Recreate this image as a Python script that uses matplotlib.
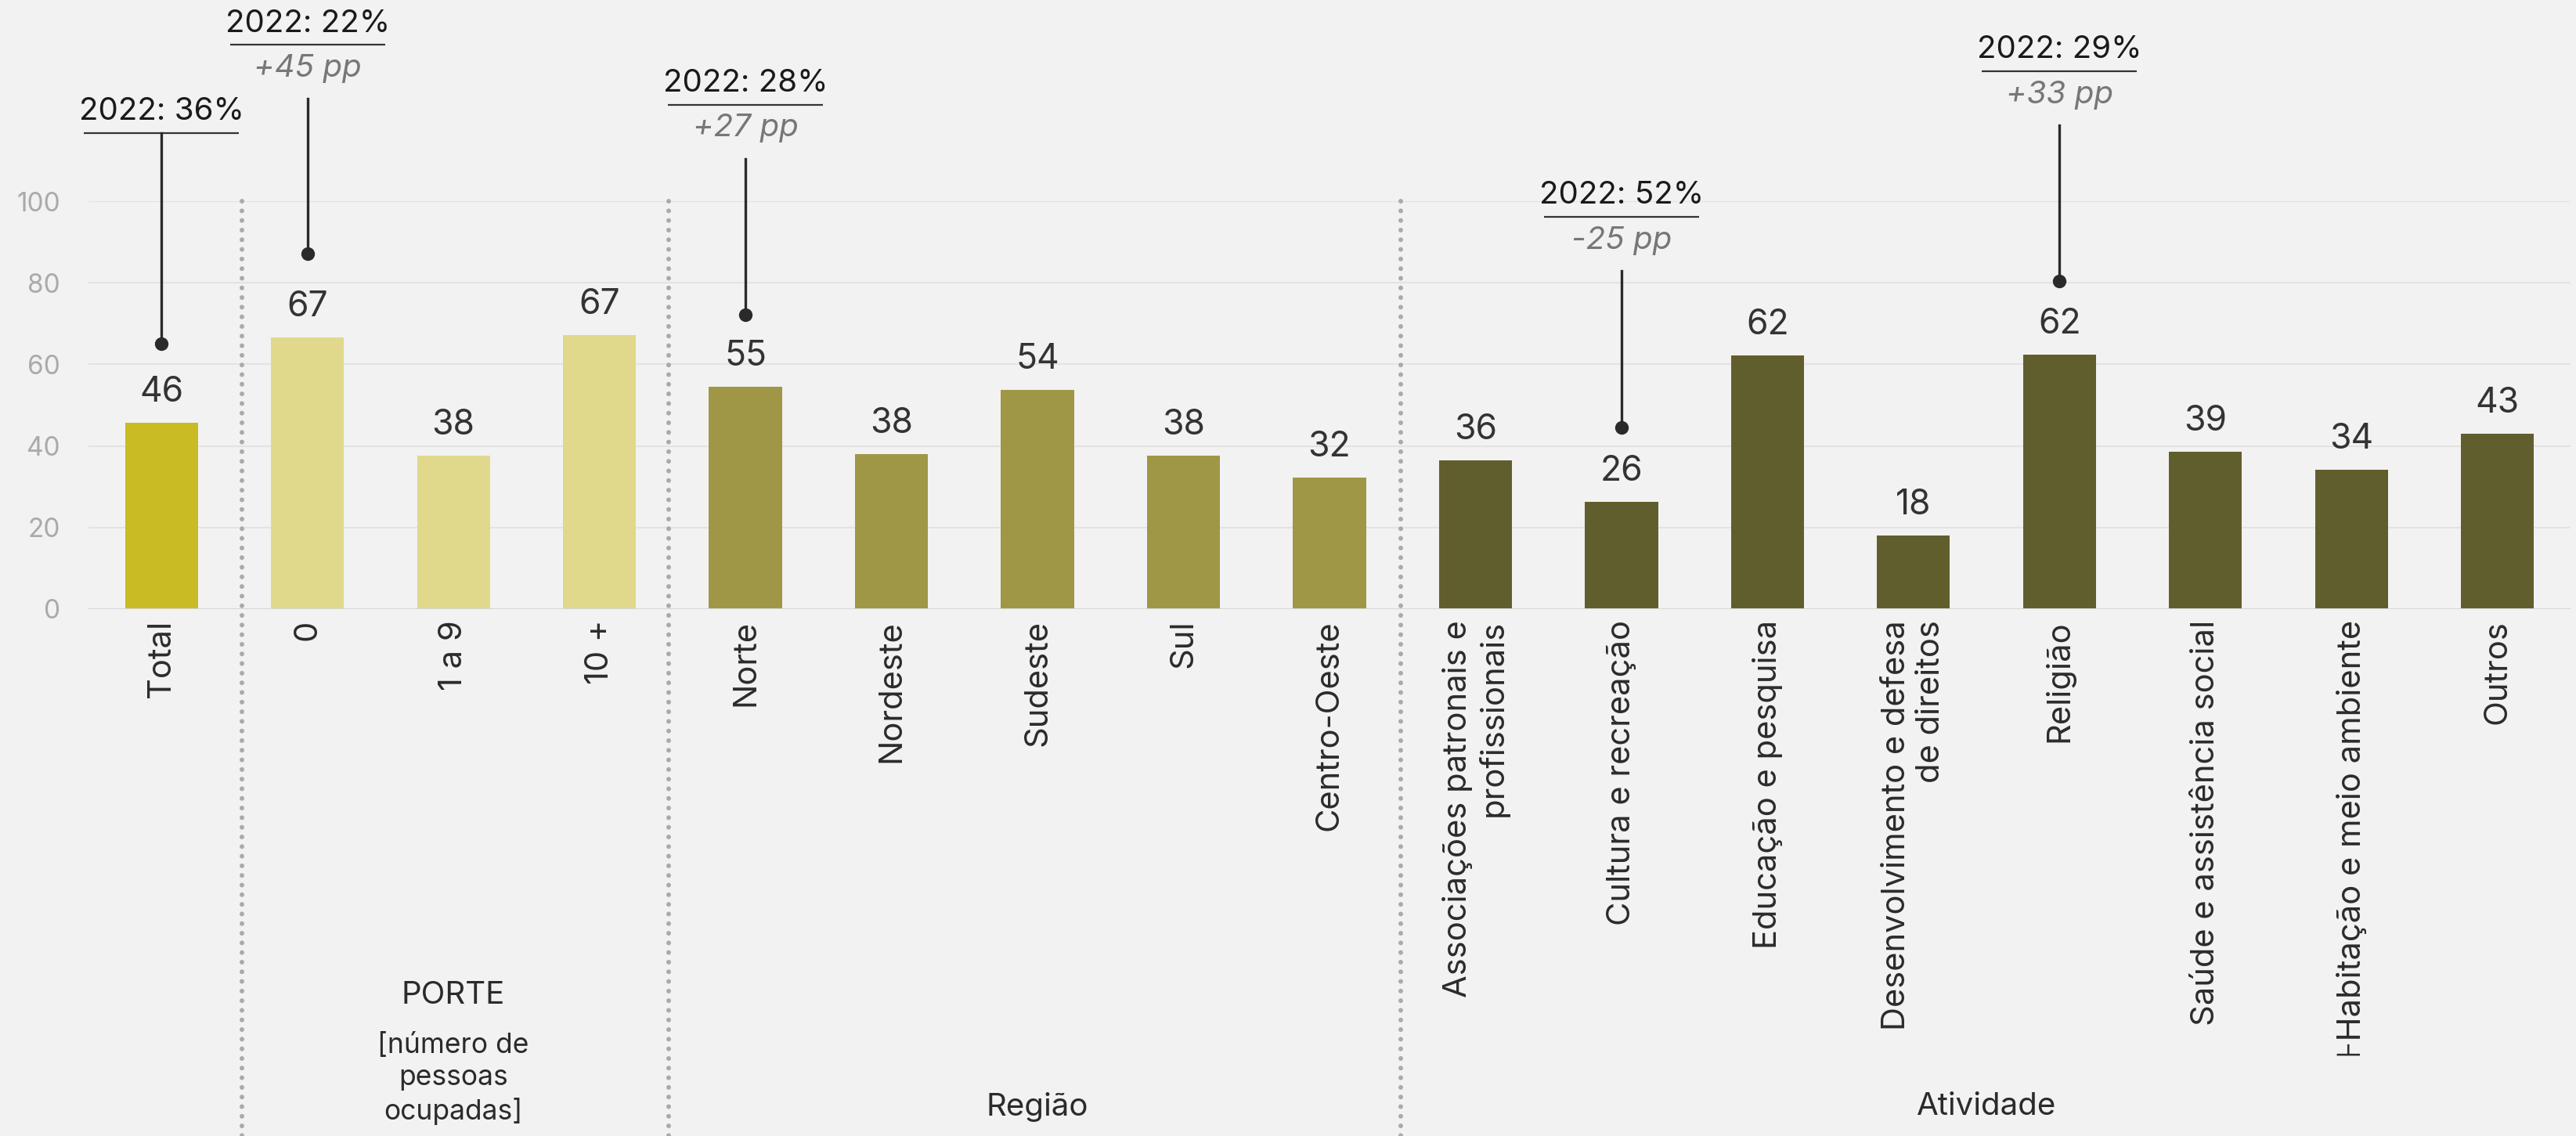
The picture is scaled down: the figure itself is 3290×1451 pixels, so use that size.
import matplotlib
matplotlib.use("Agg")
import matplotlib.pyplot as plt
import matplotlib.transforms as mtransforms
from matplotlib.lines import Line2D
from matplotlib import font_manager, ft2font

plt.rcParams['font.family'] = ['Inter', 'DejaVu Sans']

# ---------------- data ----------------
categories = ['Total', '0', '1 a 9', '10 +', 'Norte', 'Nordeste', 'Sudeste', 'Sul',
              'Centro-Oeste', 'Associações patronais e\nprofissionais',
              'Cultura e recreação', 'Educação e pesquisa',
              'Desenvolvimento e defesa\nde direitos', 'Religião',
              'Saúde e assistência social', '⊦Habitação e meio ambiente', 'Outros']
values = [45.7, 66.6, 37.6, 67.2, 54.6, 38.0, 53.7, 37.6, 32.2, 36.4, 26.3, 62.2,
          18.0, 62.4, 38.6, 34.2, 43.0]
value_labels = [46, 67, 38, 67, 55, 38, 54, 38, 32, 36, 26, 62, 18, 62, 39, 34, 43]
groups = ['total', 'porte', 'porte', 'porte', 'regiao', 'regiao', 'regiao', 'regiao',
          'regiao', 'ativ', 'ativ', 'ativ', 'ativ', 'ativ', 'ativ', 'ativ', 'ativ']
group_colors = {'total': '#C9BB24', 'porte': '#E0D98C', 'regiao': '#A09746', 'ativ': '#615E2D'}

group_titles = ['PORTE', 'Região', 'Atividade']
porte_subtitle = '[número de\npessoas\nocupadas]'

ann_idx = [0, 1, 4, 10, 13]
ann_2022 = ['2022: 36%', '2022: 22%', '2022: 28%', '2022: 52%', '2022: 29%']
ann_pp = [None, '+45 pp', '+27 pp', '-25 pp', '+33 pp']
# layout of annotations (underline level and dot level, in axis units)
ann_under = [116.7, 138.3, 123.7, 96.2, 131.9]
ann_dot = [65.0, 87.1, 72.1, 44.6, 80.4]

yticks = [0, 20, 40, 60, 80, 100]
separators = [0.55, 3.475, 8.49]

# ---------------- figure ----------------
W, H = 3291, 1451
DPI = 100
BG = '#F2F2F2'
fig = plt.figure(figsize=(W / DPI, H / DPI), dpi=DPI, facecolor=BG)
ax_left, ax_right = 113, 3283
ax_y0, ax_y100 = 778, 257
ax = fig.add_axes([ax_left / W, 1 - ax_y0 / H, (ax_right - ax_left) / W, (ax_y0 - ax_y100) / H])
ax.set_facecolor(BG)
px_per_unit = (ax_y0 - ax_y100) / 100.0

x = list(range(len(categories)))
colors = [group_colors[g] for g in groups]
ax.bar(x, values, width=0.5, color=colors, zorder=3)

ax.set_xlim(-0.5, len(categories) - 0.5)
ax.set_ylim(0, 100)
for s in ['top', 'right', 'left', 'bottom']:
    ax.spines[s].set_visible(False)

# grid
for t in yticks[1:]:
    ax.axhline(t, color='#E3E3E3', lw=1.5, zorder=1)
ax.axhline(0, color='#D6D6D6', lw=2.2, zorder=4)

ax.set_yticks(yticks)
ax.set_yticklabels([str(t) for t in yticks])
ax.tick_params(axis='y', length=0, pad=26, labelsize=24, labelcolor='#AAAAAA')

ax.set_xticks(x)
ax.set_xticklabels(categories, rotation=90, ha='center', va='top', multialignment='right')
ax.tick_params(axis='x', length=0, pad=10, labelsize=30, labelcolor='#2B2B2B')

# make sure the special sign is drawn by a family that really has it
try:
    inter_path = font_manager.findfont(font_manager.FontProperties(family='Inter'))
    inter_has = 0x22A6 in ft2font.FT2Font(inter_path).get_charmap()
except Exception:
    inter_has = True
if inter_has:
    for lab in ax.get_xticklabels():
        if '⊦' in lab.get_text():
            lab.set_family(['DejaVu Sans'])
            lab.set_fontsize(27)

# value labels
for xi, v, lab in zip(x, values, value_labels):
    ax.annotate(str(lab), (xi, v), xytext=(0, 19.4), textcoords='offset points',
                ha='center', va='baseline', fontsize=32, color='#333333', zorder=5)

# separators
blend = mtransforms.blended_transform_factory(ax.transData, ax.transAxes)
bottom_axes = -(H - ax_y0) / (ax_y0 - ax_y100)
for sx in separators:
    ln = Line2D([sx, sx], [1.0, bottom_axes], transform=blend, color='#AAAAAA', lw=4.3,
                linestyle=(0, (0.01, 2.05)), dash_capstyle='round', solid_capstyle='round',
                clip_on=False, zorder=2)
    ax.add_line(ln)

# annotations
half_w = 99 / ((ax_right - ax_left) / len(categories))
for i, t22, pp, yu, yd in zip(ann_idx, ann_2022, ann_pp, ann_under, ann_dot):
    ax.plot([i - half_w, i + half_w], [yu, yu], color='#333333', lw=1.6, clip_on=False, zorder=5,
            solid_capstyle='butt')
    ax.annotate(t22, (i, yu), xytext=(0, 19.5), textcoords='offset points', ha='center',
                va='center', fontsize=29, color='#1A1A1A', annotation_clip=False)
    if pp is None:
        ytop = yu
    else:
        ax.annotate(pp, (i, yu), xytext=(0, -21.8), textcoords='offset points', ha='center',
                    va='center', fontsize=29, color='#777777', style='italic',
                    annotation_clip=False)
        ytop = yu - 69 / px_per_unit
    ax.plot([i, i], [ytop, yd], color='#2A2A2A', lw=2.4, clip_on=False, zorder=5)
    ax.plot([i], [yd], 'o', color='#2A2A2A', ms=11.5, clip_on=False, zorder=6)

# group titles
blend_fig = mtransforms.blended_transform_factory(ax.transData, fig.transFigure)
ax.text(2, 1 - 1271 / H, group_titles[0], transform=blend_fig, ha='center', va='center',
        fontsize=29, color='#2B2B2B')
ax.text(2, 1 - 1378 / H, porte_subtitle, transform=blend_fig, ha='center', va='center',
        fontsize=25.5, color='#2B2B2B', linespacing=1.33)
ax.text(6, 1 - 1414 / H, group_titles[1], transform=blend_fig, ha='center', va='center',
        fontsize=29, color='#2B2B2B')
ax.text(12.5, 1 - 1414 / H, group_titles[2], transform=blend_fig, ha='center', va='center',
        fontsize=29, color='#2B2B2B')

fig.savefig('out.png', dpi=DPI, facecolor=BG)
